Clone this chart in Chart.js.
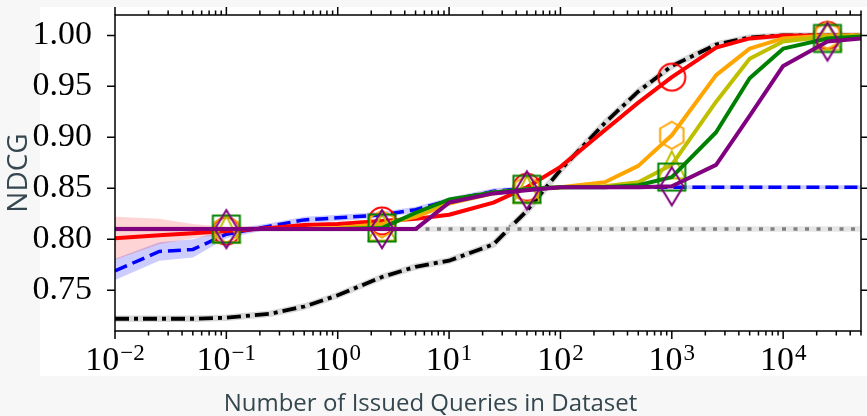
<!DOCTYPE html>
<html>
<head>
<meta charset="utf-8">
<script src="https://cdn.jsdelivr.net/npm/chart.js@4.4.1/dist/chart.umd.min.js"></script>
<style>
  html, body { margin: 0; padding: 0; background: #f7f7f7; }
</style>
</head>
<body>
<canvas id="chart" width="867" height="416"></canvas>
<script>
// query counts (x) where every curve was sampled
const xs = [0.01, 0.025, 0.05, 0.1, 0.25, 0.5, 1, 2.5, 5, 10, 25, 50, 100, 250, 500, 1000, 2500, 5000, 10000, 25000, 50000];
// x positions that carry a marker
const markerX = [0.1, 2.5, 50, 1000, 25000];

const black  = [0.722, 0.722, 0.722, 0.723, 0.727, 0.734, 0.745, 0.763, 0.773, 0.779, 0.795, 0.828, 0.868, 0.914, 0.945, 0.970, 0.991, 0.998, 1.000, 1.000, 1.000];
const blue   = [0.769, 0.788, 0.790, 0.805, 0.813, 0.819, 0.821, 0.824, 0.829, 0.838, 0.847, 0.850, 0.851, 0.851, 0.851, 0.851, 0.851, 0.851, 0.851, 0.851, 0.851];
const blueLo = [0.760, 0.779, 0.782, 0.801, 0.810, 0.816, 0.818, 0.821, 0.826, 0.835, 0.844, 0.848, 0.849, 0.849, 0.849, 0.849, 0.849, 0.849, 0.849, 0.849, 0.849];
const blueHi = [0.781, 0.797, 0.800, 0.809, 0.816, 0.822, 0.824, 0.827, 0.832, 0.841, 0.850, 0.852, 0.853, 0.853, 0.853, 0.853, 0.853, 0.853, 0.853, 0.853, 0.853];
const red    = [0.801, 0.804, 0.806, 0.808, 0.811, 0.814, 0.815, 0.818, 0.820, 0.824, 0.836, 0.851, 0.871, 0.907, 0.934, 0.959, 0.988, 0.997, 1.000, 1.000, 1.000];
const redLo  = [0.780, 0.795, 0.801, 0.805, 0.809, 0.812, 0.813, 0.816, 0.818, 0.822, 0.834, 0.849, 0.869, 0.905, 0.932, 0.957, 0.986, 0.996, 0.999, 0.999, 0.999];
const redHi  = [0.822, 0.820, 0.815, 0.812, 0.813, 0.816, 0.817, 0.820, 0.822, 0.826, 0.838, 0.853, 0.873, 0.909, 0.936, 0.961, 0.990, 0.998, 1.001, 1.001, 1.001];
const grayFlat = [0.810, 0.810, 0.810, 0.810, 0.810, 0.810, 0.810, 0.810, 0.810, 0.810, 0.810, 0.810, 0.810, 0.810, 0.810, 0.810, 0.810, 0.810, 0.810, 0.810, 0.810];
const orange = [0.810, 0.810, 0.810, 0.810, 0.810, 0.810, 0.811, 0.815, 0.822, 0.835, 0.845, 0.849, 0.851, 0.856, 0.872, 0.902, 0.961, 0.987, 0.997, 1.000, 1.000];
const olive  = [0.810, 0.810, 0.810, 0.810, 0.810, 0.810, 0.810, 0.812, 0.825, 0.837, 0.846, 0.849, 0.851, 0.852, 0.856, 0.873, 0.935, 0.977, 0.994, 0.999, 1.000];
const green  = [0.810, 0.810, 0.810, 0.810, 0.810, 0.810, 0.810, 0.811, 0.826, 0.839, 0.846, 0.849, 0.851, 0.851, 0.853, 0.861, 0.905, 0.958, 0.987, 0.997, 0.999];
const purple = [0.810, 0.810, 0.810, 0.810, 0.810, 0.810, 0.810, 0.810, 0.810, 0.836, 0.845, 0.848, 0.851, 0.851, 0.851, 0.852, 0.873, 0.921, 0.970, 0.994, 0.997];

const yTicks = [0.75, 0.80, 0.85, 0.90, 0.95, 1.00];
const xMajor = [0.01, 0.1, 1, 10, 100, 1000, 10000];
const xExp = ['\u22122', '\u22121', '0', '1', '2', '3', '4'];

const titleColor = '#34474f';
const serif = '"Liberation Serif", "DejaVu Serif", serif';

// minor ticks 2..9 inside every decade
const xTickValues = [];
xMajor.forEach(d => {
    for (let m = 1; m <= 9; m++) {
        const v = +(m * d).toPrecision(3);
        if (v <= 50000) xTickValues.push(v);
    }
});

// hollow marker images
function markerImg(color, draw) {
    const c = document.createElement('canvas');
    c.width = 48; c.height = 48;
    const g = c.getContext('2d');
    g.translate(24, 24);
    g.strokeStyle = color;
    g.lineWidth = 2;
    g.beginPath();
    draw(g);
    g.closePath();
    g.stroke();
    return c;
}
const M = 13.5;
const circleImg = markerImg('#ff0000', g => g.arc(0, 0, M, 0, Math.PI * 2));
const hexImg = markerImg('#ffa500', g => {
    for (let k = 0; k < 6; k++) {
        const a = -Math.PI / 2 + k * Math.PI / 3;
        g.lineTo(M * Math.cos(a), M * Math.sin(a));
    }
});
const triImg = markerImg('#bfbf00', g => { g.moveTo(0, -M); g.lineTo(-M, M); g.lineTo(M, M); });
const sqImg = markerImg('#008000', g => g.rect(-M, -M, 2 * M, 2 * M));
const diaImg = markerImg('#800080', g => { g.moveTo(0, -19); g.lineTo(11.5, 0); g.lineTo(0, 19); g.lineTo(-11.5, 0); });

const pts = ys => xs.map((x, i) => ({ x, y: ys[i] }));
const isMark = c => markerX.includes(xs[c.dataIndex]);

function series(ys, color, img) {
    return {
        data: pts(ys), borderColor: color, borderWidth: 4, borderJoinStyle: 'round',
        pointStyle: img, pointRadius: c => isMark(c) ? 14 : 0, fill: false
    };
}
function plain(ys, color, width, dash) {
    return {
        data: pts(ys), borderColor: color, borderWidth: width, borderDash: dash || [],
        pointRadius: 0, fill: false
    };
}
function bandEdge(ys, fillColor, fillNext) {
    return {
        data: pts(ys), borderWidth: 0, borderColor: 'rgba(0,0,0,0)', pointRadius: 0,
        backgroundColor: fillColor, fill: fillNext ? '+1' : false
    };
}

// index 0 is drawn on top
const datasets = [
    series(purple, '#800080', diaImg),
    series(green, '#008000', sqImg),
    series(olive, '#bfbf00', triImg),
    series(orange, '#ffa500', hexImg),
    series(red, '#ff0000', circleImg),
    bandEdge(redHi, 'rgba(255,0,0,0.17)', true),
    bandEdge(redLo, 'rgba(0,0,0,0)', false),
    plain(blue, '#0000ff', 3.5, [13, 6]),
    bandEdge(blueHi, 'rgba(0,0,255,0.2)', true),
    bandEdge(blueLo, 'rgba(0,0,0,0)', false),
    plain(grayFlat, '#808080', 3.5, [4, 7.5]),
    plain(grayFlat, '#e6e6e6', 5.5),
    plain(black, '#000000', 3.8, [14, 5, 4, 5]),
    plain(black, '#d9d9d9', 6.5)
];

const frame = {
    id: 'frame',
    beforeDraw(chart) {
        const c = chart.ctx;
        c.save();
        c.fillStyle = '#f7f7f7';
        c.fillRect(0, 0, chart.width, chart.height);
        c.fillStyle = '#ffffff';
        c.fillRect(40, 7, 827, 369);
        c.restore();
    },
    afterDraw(chart) {
        const { ctx: c, chartArea: a, scales: { x, y } } = chart;
        c.save();
        c.strokeStyle = '#000';
        c.lineWidth = 1.5;
        c.strokeRect(a.left, a.top, a.right - a.left, a.bottom - a.top);
        c.beginPath();
        x.ticks.forEach(t => {
            const px = x.getPixelForValue(t.value);
            const len = t.major ? 8 : 4.5;
            c.moveTo(px, a.bottom); c.lineTo(px, a.bottom + len);
            c.moveTo(px, a.top); c.lineTo(px, a.top - len);
        });
        y.ticks.forEach(t => {
            const py = y.getPixelForValue(t.value);
            c.moveTo(a.left - 8, py); c.lineTo(a.left, py);
            c.moveTo(a.right, py); c.lineTo(a.right + 8, py);
        });
        c.stroke();
        // x tick labels as 10 with raised exponent
        c.fillStyle = '#000';
        c.textAlign = 'left';
        c.textBaseline = 'alphabetic';
        xMajor.forEach((v, i) => {
            const px = x.getPixelForValue(v);
            c.font = '34px ' + serif;
            const w1 = c.measureText('10').width;
            c.font = '23px ' + serif;
            const w2 = c.measureText(xExp[i]).width;
            const sx = px - (w1 + w2 + 1) / 2;
            c.font = '34px ' + serif;
            c.fillText('10', sx, a.bottom + 39);
            c.font = '23px ' + serif;
            c.fillText(xExp[i], sx + w1 + 1, a.bottom + 29);
        });
        c.restore();
    }
};

new Chart(document.getElementById('chart'), {
    type: 'line',
    data: { datasets },
    plugins: [frame],
    options: {
        responsive: false,
        animation: false,
        events: [],
        layout: { padding: { top: 15, right: 6, left: 0, bottom: 0 } },
        elements: { line: { tension: 0 } },
        plugins: {
            legend: { display: false },
            tooltip: { enabled: false },
            title: {
                display: true, position: 'bottom', text: 'Number of Issued Queries in Dataset',
                color: titleColor, font: { family: '"Open Sans", sans-serif', size: 24, weight: 'normal', lineHeight: 1.0 },
                padding: { top: 7, bottom: 0 }
            }
        },
        scales: {
            x: {
                type: 'logarithmic', min: 0.01, max: 50000,
                afterBuildTicks: s => { s.ticks = xTickValues.map(v => ({ value: v, major: xMajor.includes(v) })); },
                afterFit: s => { s.height = 54; s.paddingLeft = 0; s.paddingRight = 0; },
                grid: { display: false },
                border: { display: false },
                ticks: { display: false }
            },
            y: {
                min: 0.71, max: 1.02,
                afterBuildTicks: s => { s.ticks = yTicks.map(v => ({ value: v })); },
                afterFit: s => { s.width = 115; s.paddingTop = 0; s.paddingBottom = 0; },
                grid: { display: false },
                border: { display: false },
                ticks: {
                    color: '#000', padding: 15,
                    font: { family: serif, size: 34 },
                    callback: v => v.toFixed(2)
                },
                title: {
                    display: true, text: 'NDCG', color: titleColor,
                    font: { family: '"Open Sans", sans-serif', size: 28, lineHeight: 1.1 },
                    padding: { top: 4, bottom: 0 }
                }
            }
        }
    }
});
</script>
</body>
</html>
